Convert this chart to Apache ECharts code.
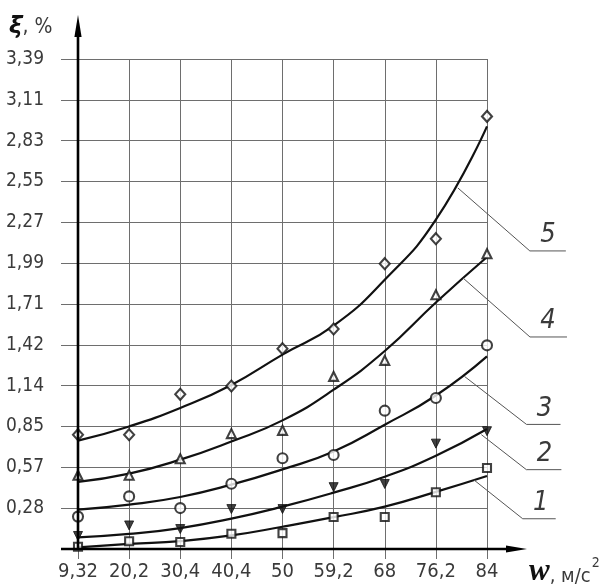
<!DOCTYPE html>
<html>
<head>
<meta charset="utf-8">
<script src="https://cdn.jsdelivr.net/npm/echarts@6/dist/echarts.min.js"></script>
<style>
html,body{margin:0;padding:0;background:#fff;}
#c{width:605px;height:585px;}
</style>
</head>
<body>
<div id="c"></div>
<script>
// ---- data ----
const categories = ['9,32','20,2','30,4','40,4','50','59,2','68','76,2','84'];
const yTickLabels = ['','0,28','0,57','0,85','1,14','1,42','1,71','1,99','2,27','2,55','2,83','3,11','3,39'];
const yStep = 0.2825;
const yMax = 3.39;

// measured points
const pts1 = [0.016, 0.054, 0.048, 0.106, 0.110, 0.221, 0.221, 0.393, 0.560];
const pts2 = [0.090, 0.163, 0.138, 0.276, 0.276, 0.428, 0.450, 0.729, 0.815];
const pts3 = [0.224, 0.364, 0.283, 0.451, 0.628, 0.650, 0.957, 1.045, 1.409];
const pts4 = [0.510, 0.510, 0.624, 0.798, 0.821, 1.194, 1.305, 1.759, 2.043];
const pts5 = [0.791, 0.791, 1.070, 1.128, 1.386, 1.522, 1.974, 2.147, 2.993];

// fitted curves
const fit1 = [0.011, 0.035, 0.055, 0.094, 0.154, 0.220, 0.293, 0.395, 0.505];
const fit2 = [0.080, 0.104, 0.145, 0.210, 0.293, 0.390, 0.500, 0.645, 0.830];
const fit3 = [0.272, 0.307, 0.360, 0.445, 0.551, 0.675, 0.860, 1.062, 1.333];
const fit4 = [0.464, 0.521, 0.618, 0.744, 0.890, 1.102, 1.370, 1.705, 2.020];
const fit5 = [0.750, 0.848, 0.976, 1.135, 1.345, 1.545, 1.863, 2.278, 2.924];

// ---- styling ----
const FONT = "'Liberation Sans Narrow','DejaVu Sans Condensed','Roboto Condensed','Liberation Sans',sans-serif";
const GRID_COLOR = '#6e6e6e';
const TEXT_COLOR = '#3a3a3a';

const chart = echarts.init(document.getElementById('c'), null, {renderer:'canvas'});

function curveSeries(data, name){
  return {type:'line', name:'fit'+name, data:data, smooth:0.5, symbol:'none',
    lineStyle:{color:'#111', width:2.2}, z:3, silent:true};
}
function pointSeries(data, symbol, size, filled, rotate){
  return {type:'scatter', data:data, symbol:symbol, symbolSize:size, symbolRotate:rotate||0,
    itemStyle:{color: filled ? '#111' : '#fff', borderColor:'#111', borderWidth: filled ? 1 : 2.1},
    z:4, silent:true};
}

const option = {
  animation:false,
  backgroundColor:'#fff',
  grid:{left:78, right:118, top:59, bottom:36, containLabel:false},
  xAxis:{
    type:'category', data:categories, boundaryGap:false,
    axisLine:{show:false},
    axisTick:{show:true, length:10, alignWithLabel:true, lineStyle:{color:GRID_COLOR, width:1}},
    axisLabel:{interval:0, margin:13, fontFamily:FONT, fontSize:20, color:TEXT_COLOR},
    splitLine:{show:true, interval:0, lineStyle:{color:GRID_COLOR, width:1}}
  },
  yAxis:{
    type:'value', min:0, max:yMax, interval:yStep,
    axisLine:{show:false},
    axisTick:{show:true, length:17, lineStyle:{color:GRID_COLOR, width:1}},
    axisLabel:{margin:34, fontFamily:FONT, fontSize:19, color:TEXT_COLOR,
      formatter:function(v){ const i = Math.round(v / yStep); return yTickLabels[i] || ''; }},
    splitLine:{show:true, lineStyle:{color:GRID_COLOR, width:1}}
  },
  series:[
    curveSeries(fit1,'1'), curveSeries(fit2,'2'), curveSeries(fit3,'3'),
    curveSeries(fit4,'4'), curveSeries(fit5,'5'),
    pointSeries(pts1,'rect',8,false),
    pointSeries(pts2,'triangle',9,true,180),
    pointSeries(pts3,'circle',10,false),
    pointSeries(pts4,'triangle',9,false),
    pointSeries(pts5,'diamond',[10,11],false)
  ]
};
chart.setOption(option);

// ---- annotations: axes with arrows, axis names, curve leaders ----
function toPx(idx, val){
  const i0 = Math.floor(idx), i1 = Math.min(i0 + 1, categories.length - 1);
  const a = chart.convertToPixel({gridIndex:0}, [i0, val]);
  const b = chart.convertToPixel({gridIndex:0}, [i1, val]);
  const t = idx - i0;
  return [a[0] + (b[0] - a[0]) * t, a[1]];
}
const o = toPx(0, 0);
const tr = toPx(categories.length - 1, yMax);

// leader anchors on the curves (category index, value), and pixel offsets to the elbow
const leaders = [
  {label:'5', at:[7.43, 2.498], d:[72, 63], len:36},
  {label:'4', at:[7.53, 1.875], d:[67, 59], len:37},
  {label:'3', at:[7.56, 1.194], d:[62, 48], len:34},
  {label:'2', at:[7.89, 0.791], d:[45, 35], len:35},
  {label:'1', at:[7.74, 0.479], d:[49, 39], len:33}
];

const g = [];
// y axis
g.push({type:'line', shape:{x1:o[0], y1:o[1]+1, x2:o[0], y2:tr[1]-30}, style:{stroke:'#000', lineWidth:2.6}, z:10});
g.push({type:'polygon', shape:{points:[[o[0], tr[1]-44],[o[0]-3.6, tr[1]-22],[o[0]+3.6, tr[1]-22]]}, style:{fill:'#000'}, z:10});
// x axis
g.push({type:'line', shape:{x1:o[0]-17, y1:o[1], x2:tr[0]+24, y2:o[1]}, style:{stroke:'#000', lineWidth:2.6}, z:10});
g.push({type:'polygon', shape:{points:[[tr[0]+40, o[1]],[tr[0]+19, o[1]-3.4],[tr[0]+19, o[1]+3.4]]}, style:{fill:'#000'}, z:10});

// y axis name
g.push({type:'text', left:9, top:16, z:10, style:{
  text:'{a|ξ}{b|, %}',
  rich:{a:{fontFamily:"'DejaVu Sans','Liberation Sans',sans-serif", fontWeight:'bold', fontStyle:'italic', fontSize:23, fill:'#111'},
        b:{fontFamily:FONT, fontSize:21, fill:TEXT_COLOR}}
}});
// x axis name
g.push({type:'text', left:529, top:556, z:10, style:{
  text:'{a|w}{b|, м/с}{c|2}',
  rich:{a:{fontFamily:"'Liberation Serif','DejaVu Serif',serif", fontWeight:'bold', fontStyle:'italic', fontSize:31, fill:'#111', verticalAlign:'bottom'},
        b:{fontFamily:FONT, fontSize:20, fill:TEXT_COLOR, verticalAlign:'bottom'},
        c:{fontFamily:FONT, fontSize:14, fill:TEXT_COLOR, verticalAlign:'top', padding:[0,0,12,1]}}
}});

leaders.forEach(function(L){
  const p = toPx(L.at[0], L.at[1]);
  const ex = p[0] + L.d[0], ey = p[1] + L.d[1];
  g.push({type:'polyline', shape:{points:[[p[0],p[1]],[ex,ey],[ex+L.len,ey]]}, style:{stroke:'#555', lineWidth:1, fill:null}, z:9});
  g.push({type:'text', x:ex+18, y:ey-2, z:10, style:{text:L.label, fontFamily:FONT, fontStyle:'italic', fontSize:27, fill:TEXT_COLOR, textAlign:'center', textVerticalAlign:'bottom'}});
});

chart.setOption({graphic:g});
</script>
</body>
</html>
